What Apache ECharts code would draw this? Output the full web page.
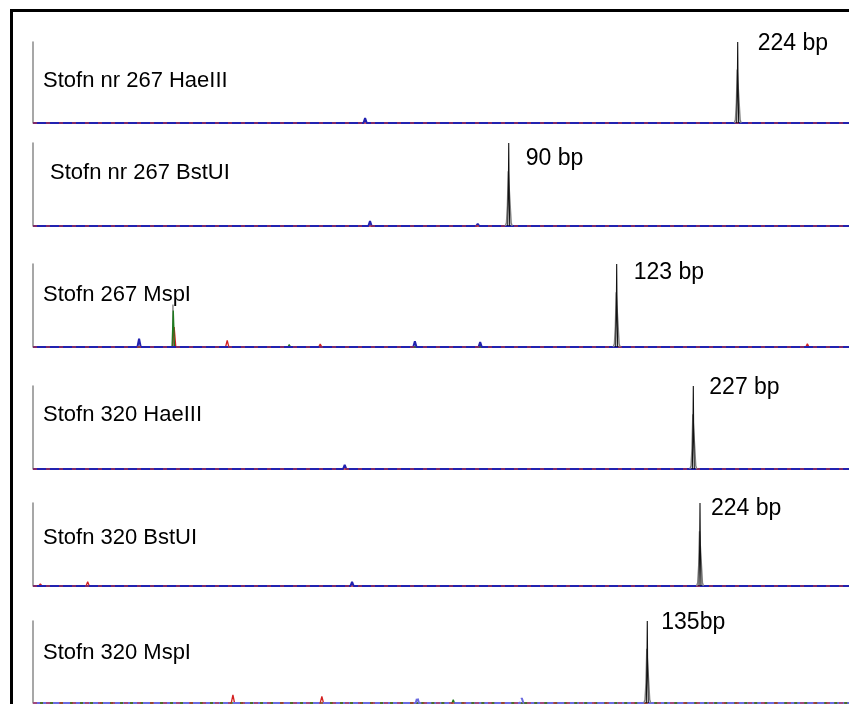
<!DOCTYPE html>
<html>
<head>
<meta charset="utf-8">
<script src="https://cdn.jsdelivr.net/npm/echarts@6/dist/echarts.min.js"></script>
<style>
  html, body { margin: 0; padding: 0; background: #fff; }
  #chart { width: 849px; height: 704px; }
</style>
</head>
<body>
<div id="chart"></div>
<script>
// lane names and peak annotations
const laneNames = [
  "Stofn nr 267 HaeIII",
  "Stofn nr 267 BstUI",
  "Stofn 267 MspI",
  "Stofn 320 HaeIII",
  "Stofn 320 BstUI",
  "Stofn 320 MspI",
];
const peakLabels = ["224 bp", "90 bp", "123 bp", "227 bp", "224 bp", "135bp"];

// main peak position (scan units 0-100) and relative height
const peakPos = [86.36, 58.3, 71.53, 80.92, 81.74, 75.28];
const peakHeight = [100, 100, 100, 100, 100, 100];

// small baseline blips per lane: [position, height]
const blueBlips = [
  [[20.5, 1.5], [40.7, 6], [51.1, 1.5], [71.9, 1.5]],
  [[12.0, 1.5], [41.3, 6], [54.5, 2.5], [66.0, 1.5]],
  [[13.0, 10], [46.8, 7], [54.8, 6], [70.0, 1.5]],
  [[10.0, 1.5], [38.2, 5], [60.0, 1.5], [85.0, 1.5]],
  [[15.0, 1.5], [39.1, 5], [50.0, 1.5], [90.0, 1.5]],
  [[20.0, 2], [47.1, 7], [59.9, 6], [68.0, 2], [88.0, 2]],
];
const redBlips = [
  [[25.0, 2], [55.0, 2], [88.0, 2]],
  [[30.0, 1.5], [74.4, 2], [95.0, 2]],
  [[17.3, 24], [23.8, 8], [35.2, 3.6], [94.9, 4]],
  [[3.3, 2], [53.6, 2], [92.0, 2]],
  [[0.9, 2.5], [6.7, 5], [45.0, 2]],
  [[24.5, 10], [35.4, 8], [64.0, 2], [80.0, 2]],
];
const greenBlips = [
  [],
  [],
  [[17.19, 44], [31.4, 3]],
  [],
  [],
  [[51.5, 4]],
];
const grayBlips = [
  [],
  [],
  [[17.15, 51]],
  [],
  [],
  [],
];

// layout (pixels)
const gridTops = [42, 143, 264, 386, 503, 621];
const gridHeights = [81, 83, 83, 83, 83, 82];
const titlePos = [[43, 80], [50, 172], [43, 294], [43, 414], [43, 537], [43, 652]];
const labelOffset = [[20, 2], [17, 16], [17, 9], [16, 2], [11, 6], [14, 2]];
const FONT = "Liberation Sans, Arial, sans-serif";

function trace(blips, w) {
  const pts = [[0, 0]];
  const sorted = blips.slice().sort((a, b) => a[0] - b[0]);
  for (const [p, h] of sorted) {
    pts.push([p - w, 0], [p, h], [p + w, 0]);
  }
  pts.push([100, 0]);
  return pts;
}

function peakBlack(c, h) {
  return [[c - 0.12, 0], [c - 0.04, h * 0.5], [c, h], [c + 0.04, h * 0.5], [c + 0.12, 0]];
}

function peakGray(c, h) {
  return [
    [c - 0.42, 0], [c - 0.28, h * 0.04], [c - 0.16, h * 0.25], [c - 0.06, h * 0.66],
    [c + 0.1, h * 0.66], [c + 0.18, h * 0.25], [c + 0.3, h * 0.04], [c + 0.42, 0],
  ];
}

const grids = [], xAxes = [], yAxes = [], series = [], graphics = [];

laneNames.forEach((name, i) => {
  grids.push({ left: 33, right: 0, top: gridTops[i], height: gridHeights[i] });
  xAxes.push({ gridIndex: i, type: "value", min: 0, max: 100, show: false });
  yAxes.push({
    gridIndex: i, type: "value", min: 0, max: 100,
    axisLine: { show: true, lineStyle: { color: "#8a8a8a", width: 1.5 } },
    axisTick: { show: false }, axisLabel: { show: false }, splitLine: { show: false },
  });

  const common = { type: "line", xAxisIndex: i, yAxisIndex: i, showSymbol: false, silent: true, clip: false };

  series.push({
    ...common, name: name + " red", z: 1,
    data: trace(redBlips[i], 0.2),
    lineStyle: { color: "#d42020", width: 1.3 },
  });
  if (greenBlips[i].length) {
    series.push({
      ...common, name: name + " green", z: 1,
      data: trace(greenBlips[i], 0.15),
      lineStyle: { color: "#1e7a1e", width: 1.3 },
    });
  }
  if (grayBlips[i].length) {
    series.push({
      ...common, name: name + " gray", z: 0,
      data: trace(grayBlips[i], 0.05),
      lineStyle: { color: "#888", width: 1 },
    });
  }
  series.push({
    ...common, name: name + " blue", z: 2,
    data: trace(blueBlips[i], 0.2),
    lineStyle: { color: i === 5 ? "#6a6ae0" : "#2222b0", width: 2, type: i === 5 ? [7, 3] : "solid" },
  });
  // red speckle along the baseline
  series.push({
    ...common, name: name + " red speckle", z: 3,
    data: trace([], 0),
    lineStyle: { color: "#c83030", width: 1.6, type: [4, 9], opacity: 0.75 },
  });
  series.push({
    ...common, name: name + " peak gray", z: 5,
    data: peakGray(peakPos[i], peakHeight[i]),
    lineStyle: { color: "#808080", width: 1.4 },
  });
  series.push({
    ...common, name: name + " peak", z: 6,
    data: peakBlack(peakPos[i], peakHeight[i]),
    lineStyle: { color: "#111", width: 1.1 },
    markPoint: {
      symbol: "circle", symbolSize: 0, silent: true,
      data: [{
        coord: [peakPos[i], peakHeight[i]],
        label: {
          show: true, formatter: peakLabels[i], position: "inside",
          align: "left", verticalAlign: "middle", offset: labelOffset[i],
          color: "#000", fontSize: 23, fontFamily: FONT,
        },
      }],
    },
  });

  graphics.push({
    type: "text", left: titlePos[i][0], top: titlePos[i][1] - 10,
    style: { text: name, fill: "#000", font: "22px " + FONT },
  });
});

// outer frame
graphics.push({
  type: "rect", shape: { x: 11.5, y: 10.5, width: 900, height: 800 },
  style: { fill: "none", stroke: "#000", lineWidth: 3 },
});

const chart = echarts.init(document.getElementById("chart"));
chart.setOption({
  animation: false,
  backgroundColor: "#fff",
  grid: grids,
  xAxis: xAxes,
  yAxis: yAxes,
  series: series,
  graphic: graphics,
});
</script>
</body>
</html>
